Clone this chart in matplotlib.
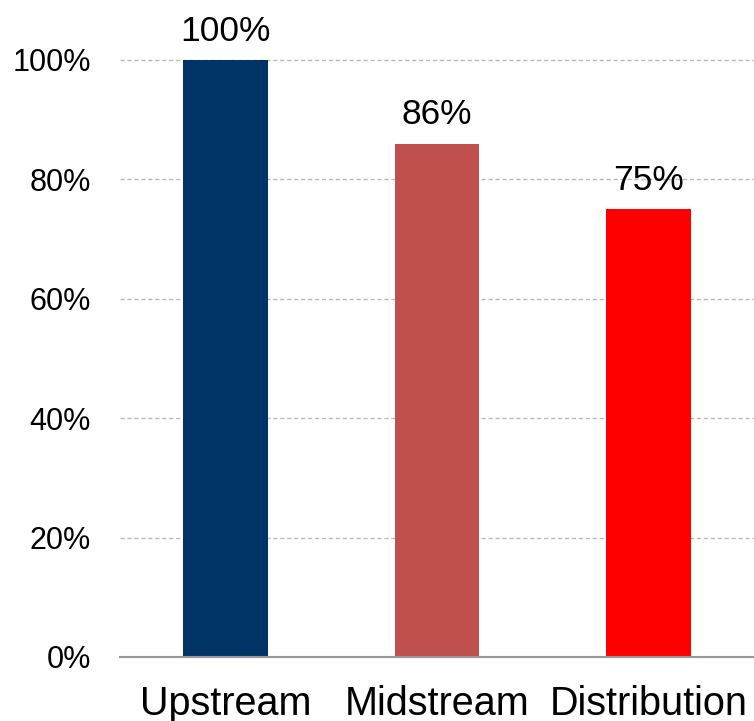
import matplotlib.pyplot as plt
from matplotlib.ticker import PercentFormatter

# Share of segment covered
segments = ['Upstream', 'Midstream', 'Distribution']
shares = [100, 86, 75]
bar_colors = ['#003366', '#C0504D', '#FF0000']
y_ticks = [0, 20, 40, 60, 80, 100]

plt.rcParams['font.family'] = ['Liberation Sans', 'DejaVu Sans']

fig = plt.figure(figsize=(7.54, 7.21), dpi=100)
ax = fig.add_axes([0.159, 0.0888, 0.841, 0.828])

x = range(len(segments))
bars = ax.bar(x, shares, width=0.40, color=bar_colors, zorder=3)

for rect, val in zip(bars, shares):
    ax.text(rect.get_x() + rect.get_width() / 2, val + 3.2, f'{val}%',
            ha='center', va='baseline', fontsize=25.5, clip_on=False)

ax.set_xlim(-0.5, 2.5)
ax.set_ylim(0, 100)
ax.set_yticks(y_ticks)
ax.yaxis.set_major_formatter(PercentFormatter(decimals=0))
ax.set_xticks(list(x))
ax.set_xticklabels(segments, fontsize=28.5)
ax.tick_params(axis='y', length=0, pad=21, labelsize=22)
ax.tick_params(axis='x', length=0, pad=20)

ax.grid(axis='y', linestyle=(0, (3, 2)), color='#BBBBBB', linewidth=1, zorder=0)
ax.yaxis.get_gridlines()[-1].set_clip_on(False)
for side in ['left', 'right', 'top']:
    ax.spines[side].set_visible(False)
ax.spines['bottom'].set_color('#999999')
ax.spines['bottom'].set_linewidth(1.5)
ax.spines['bottom'].set_zorder(4)

fig.savefig('out.png', dpi=100)
